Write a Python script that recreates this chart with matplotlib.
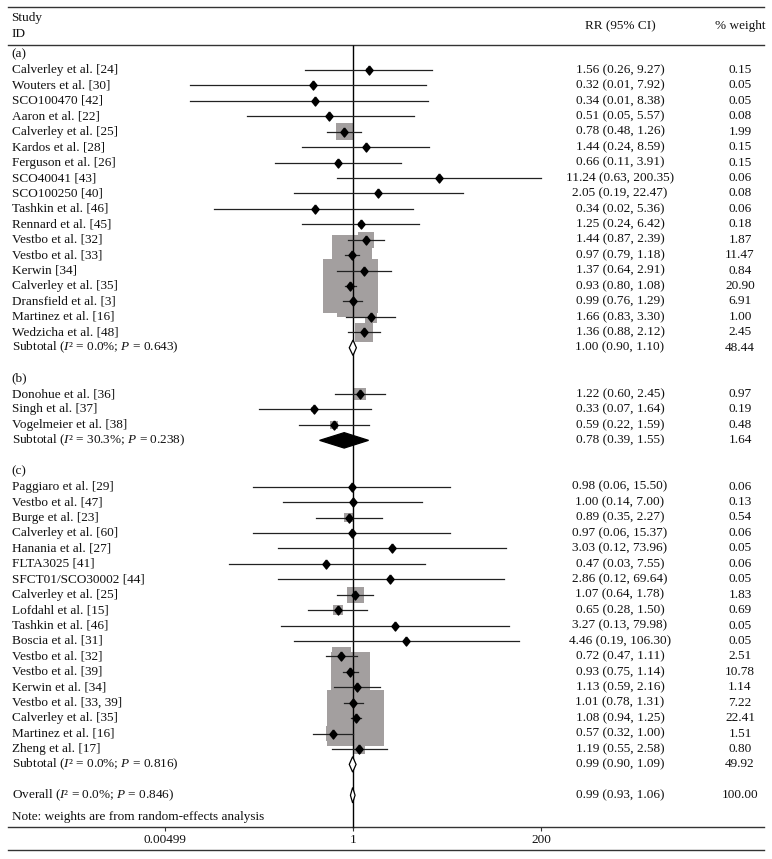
import numpy as np
import matplotlib.pyplot as plt
from matplotlib.patches import Rectangle, Polygon

plt.rcParams['font.family'] = 'Liberation Serif'
plt.rcParams['mathtext.fontset'] = 'custom'
plt.rcParams['mathtext.rm'] = 'Liberation Serif'
plt.rcParams['mathtext.it'] = 'Liberation Serif:italic'

# (a)
studies_a = ["Calverley et al. [24]", "Wouters et al. [30]", "SCO100470 [42]", "Aaron et al. [22]",
             "Calverley et al. [25]", "Kardos et al. [28]", "Ferguson et al. [26]", "SCO40041 [43]",
             "SCO100250 [40]", "Tashkin et al. [46]", "Rennard et al. [45]", "Vestbo et al. [32]",
             "Vestbo et al. [33]", "Kerwin [34]", "Calverley et al. [35]", "Dransfield et al. [3]",
             "Martinez et al. [16]", "Wedzicha et al. [48]"]
rr_a = [1.56, 0.32, 0.34, 0.51, 0.78, 1.44, 0.66, 11.24, 2.05, 0.34, 1.25, 1.44, 0.97, 1.37, 0.93, 0.99, 1.66, 1.36]
lo_a = [0.26, 0.01, 0.01, 0.05, 0.48, 0.24, 0.11, 0.63, 0.19, 0.02, 0.24, 0.87, 0.79, 0.64, 0.80, 0.76, 0.83, 0.88]
hi_a = [9.27, 7.92, 8.38, 5.57, 1.26, 8.59, 3.91, 200.35, 22.47, 5.36, 6.42, 2.39, 1.18, 2.91, 1.08, 1.29, 3.30, 2.12]
wt_a = [0.15, 0.05, 0.05, 0.08, 1.99, 0.15, 0.15, 0.06, 0.08, 0.06, 0.18, 1.87, 11.47, 0.84, 20.90, 6.91, 1.00, 2.45]

# (b)
studies_b = ["Donohue et al. [36]", "Singh et al. [37]", "Vogelmeier et al. [38]"]
rr_b = [1.22, 0.33, 0.59]
lo_b = [0.60, 0.07, 0.22]
hi_b = [2.45, 1.64, 1.59]
wt_b = [0.97, 0.19, 0.48]

# (c)
studies_c = ["Paggiaro et al. [29]", "Vestbo et al. [47]", "Burge et al. [23]", "Calverley et al. [60]",
             "Hanania et al. [27]", "FLTA3025 [41]", "SFCT01/SCO30002 [44]", "Calverley et al. [25]",
             "Lofdahl et al. [15]", "Tashkin et al. [46]", "Boscia et al. [31]", "Vestbo et al. [32]",
             "Vestbo et al. [39]", "Kerwin et al. [34]", "Vestbo et al. [33, 39]", "Calverley et al. [35]",
             "Martinez et al. [16]", "Zheng et al. [17]"]
rr_c = [0.98, 1.00, 0.89, 0.97, 3.03, 0.47, 2.86, 1.07, 0.65, 3.27, 4.46, 0.72, 0.93, 1.13, 1.01, 1.08, 0.57, 1.19]
lo_c = [0.06, 0.14, 0.35, 0.06, 0.12, 0.03, 0.12, 0.64, 0.28, 0.13, 0.19, 0.47, 0.75, 0.59, 0.78, 0.94, 0.32, 0.55]
hi_c = [15.50, 7.00, 2.27, 15.37, 73.96, 7.55, 69.64, 1.78, 1.50, 79.98, 106.30, 1.11, 1.14, 2.16, 1.31, 1.25, 1.00, 2.58]
wt_c = [0.06, 0.13, 0.54, 0.06, 0.05, 0.06, 0.05, 1.83, 0.69, 0.05, 0.05, 2.51, 10.78, 1.14, 7.22, 22.41, 1.51, 0.80]

# subtotals
group_names = ["(a)", "(b)", "(c)"]
sub_labels = ["Subtotal ($I$\u00b2 = 0.0%; $P$ = 0.643)",
              "Subtotal ($I$\u00b2 = 30.3%; $P$ = 0.238)",
              "Subtotal ($I$\u00b2 = 0.0%; $P$ = 0.816)"]
sub_rr = [1.00, 0.78, 0.99]
sub_lo = [0.90, 0.39, 0.90]
sub_hi = [1.10, 1.55, 1.09]
sub_wt = [48.44, 1.64, 49.92]
sub_filled = [False, True, False]

overall_label = "Overall ($I$\u00b2 = 0.0%; $P$ = 0.846)"
overall_rr, overall_lo, overall_hi, overall_wt = 0.99, 0.93, 1.06, 100.00

tick_vals = [0.00499, 1, 200]
tick_labels = ["0.00499", "1", "200"]

# layout in pixels
W, H = 772, 859
X1 = 353.0       # pixel of RR = 1
S = 35.5         # pixels per ln unit
Y0 = 54.6        # pixel of first row
P = 15.43        # row pitch
BOX_K = 12.0     # box side = BOX_K * sqrt(weight) pixels


def row(py):
    return (py - Y0) / P


groups = [
    (studies_a, rr_a, lo_a, hi_a, wt_a),
    (studies_b, rr_b, lo_b, hi_b, wt_b),
    (studies_c, rr_c, lo_c, hi_c, wt_c),
]

fig = plt.figure(figsize=(W / 100, H / 100), dpi=100)
ax = fig.add_axes([0, 0, 1, 1])
ax.set_xscale('log')
ax.set_xlim(np.exp(-X1 / S), np.exp((W - X1) / S))
ax.set_ylim(row(H), row(0))
ax.axis('off')

tr = ax.get_yaxis_transform()
fs = 9.5
tc = '#111111'
lc = '#222222'
box_c = '#a39f9f'
XL, XC, XW = 11.5 / W, 620 / W, 740 / W

diamond = [(0, 1), (0.8, 0), (0, -1), (-0.8, 0), (0, 1)]


def put_row(r, label, e, l, h, w):
    ax.text(XL, r, label, transform=tr, fontsize=fs, color=tc, va='center')
    ax.text(XC, r, f"{e:.2f} ({l:.2f}, {h:.2f})", transform=tr, fontsize=fs,
            color=tc, va='center', ha='center')
    ax.text(XW, r, f"{w:.2f}", transform=tr, fontsize=fs, color=tc, va='center', ha='center')


def summary_diamond(r, e, l, h, filled):
    ax.add_patch(Polygon([(l, r), (e, r - 0.5), (h, r), (e, r + 0.5)], closed=True,
                         facecolor='black' if filled else 'white',
                         edgecolor='black', lw=0.9, zorder=5))


r = 0
for gi, (names, rr, lo, hi, wt) in enumerate(groups):
    ax.text(XL, r, group_names[gi], transform=tr, fontsize=fs, color=tc, va='center')
    r += 1
    for name, e, l, h, w in zip(names, rr, lo, hi, wt):
        # weight box, area proportional to % weight
        side = BOX_K * np.sqrt(w)
        hx = side / 2 / S
        hy = side / 2 / P
        ax.add_patch(Rectangle((e * np.exp(-hx), r - hy), e * np.exp(hx) - e * np.exp(-hx), 2 * hy,
                               facecolor=box_c, edgecolor='none', zorder=1))
        ax.plot([l, h], [r, r], color=lc, lw=0.9, zorder=3)
        ax.plot([e], [r], marker=diamond, markersize=6.5, color='black', zorder=4)
        put_row(r, name, e, l, h, w)
        r += 1
    summary_diamond(r, sub_rr[gi], sub_lo[gi], sub_hi[gi], sub_filled[gi])
    put_row(r, sub_labels[gi], sub_rr[gi], sub_lo[gi], sub_hi[gi], sub_wt[gi])
    r += 2

# overall
summary_diamond(r, overall_rr, overall_lo, overall_hi, False)
put_row(r, overall_label, overall_rr, overall_lo, overall_hi, overall_wt)
ax.text(XL, row(817), "Note: weights are from random-effects analysis", transform=tr,
        fontsize=fs, color=tc, va='center')

# header
ax.text(XL, row(18), "Study", transform=tr, fontsize=fs, color=tc, va='center')
ax.text(XL, row(34), "ID", transform=tr, fontsize=fs, color=tc, va='center')
ax.text(XC, row(26), "RR (95% CI)", transform=tr, fontsize=fs, color=tc, va='center', ha='center')
ax.text(XW, row(26), "% weight", transform=tr, fontsize=fs, color=tc, va='center', ha='center')

# rules
for py in [7, 45, 827, 850]:
    ax.axhline(row(py), xmin=8 / W, xmax=764 / W, color='#333333', lw=1.0)

# null line
ax.vlines(1, row(45), row(828), color='black', lw=1.0, zorder=2)

# axis ticks and labels
for v, lab in zip(tick_vals, tick_labels):
    ax.vlines(v, row(827), row(830.5), color='#333333', lw=0.8)
    ax.text(v, row(840), lab, fontsize=fs, color=tc, va='center', ha='center')

fig.savefig('out.png', dpi=100)
